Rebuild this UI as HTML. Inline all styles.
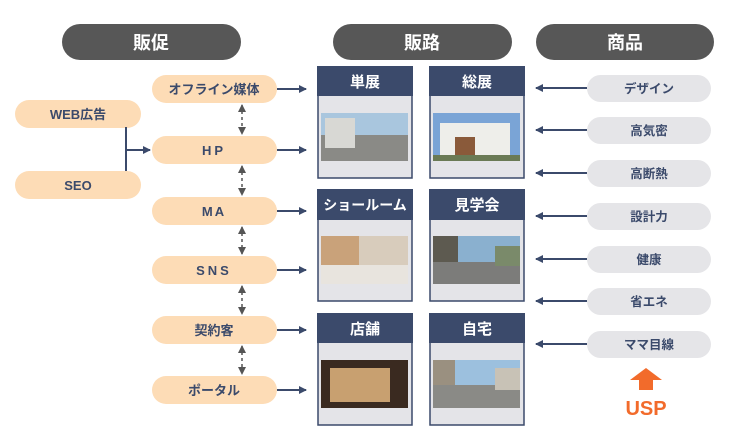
<!DOCTYPE html>
<html><head><meta charset="utf-8"><style>
body{margin:0;background:#fff;}
text{font-family:"Liberation Sans","Noto Sans CJK JP",sans-serif;font-weight:bold;}
</style></head><body>
<svg width="733" height="443" viewBox="0 0 733 443" xmlns="http://www.w3.org/2000/svg">
<defs>
<marker id="ar" markerWidth="8" markerHeight="8" refX="7" refY="4" orient="auto" markerUnits="userSpaceOnUse"><path d="M0,0 L8,4 L0,8 Z" fill="#3b4a6b"/></marker>
<marker id="ag" markerWidth="8" markerHeight="8" refX="7" refY="4" orient="auto-start-reverse" markerUnits="userSpaceOnUse"><path d="M0,0 L8,4 L0,8 Z" fill="#555"/></marker>
</defs>
<!-- headers -->
<g fill="#575757">
<rect x="62" y="24" width="179" height="36" rx="18"/>
<rect x="333" y="24" width="179" height="36" rx="18"/>
<rect x="536" y="24" width="178" height="36" rx="18"/>
</g>
<g fill="#fff" font-size="18" text-anchor="middle">
<text x="151" y="49">販促</text><text x="422" y="49">販路</text><text x="625" y="49">商品</text>
</g>
<!-- left -->
<g fill="#fddcb6">
<rect x="15" y="100" width="126" height="28" rx="14"/>
<rect x="15" y="171" width="126" height="28" rx="14"/>
</g>
<g fill="#3b4a6b" font-size="13" text-anchor="middle">
<text x="78" y="119">WEB広告</text><text x="78" y="190">SEO</text>
</g>
<path d="M126 127 V171 M126 150 H150" stroke="#3b4a6b" stroke-width="2" fill="none" marker-end="url(#ar)"/>
<!-- mid pills -->
<g fill="#fddcb6">
<rect x="152" y="75" width="125" height="28" rx="14"/>
<rect x="152" y="136" width="125" height="28" rx="14"/>
<rect x="152" y="197" width="125" height="28" rx="14"/>
<rect x="152" y="256" width="125" height="28" rx="14"/>
<rect x="152" y="316" width="125" height="28" rx="14"/>
<rect x="152" y="376" width="125" height="28" rx="14"/>
</g>
<g fill="#3b4a6b" font-size="13" text-anchor="middle">
<text x="214" y="94">オフライン媒体</text>
<text x="214" y="155" letter-spacing="3">HP</text>
<text x="214" y="216" letter-spacing="2">MA</text>
<text x="214" y="275" letter-spacing="3">SNS</text>
<text x="214" y="335">契約客</text>
<text x="214" y="395">ポータル</text>
</g>
<g stroke="#555" stroke-width="1.5" stroke-dasharray="3,3" marker-start="url(#ag)" marker-end="url(#ag)">
<line x1="242" y1="105" x2="242" y2="134"/>
<line x1="242" y1="166" x2="242" y2="195"/>
<line x1="242" y1="227" x2="242" y2="254"/>
<line x1="242" y1="286" x2="242" y2="314"/>
<line x1="242" y1="346" x2="242" y2="374"/>
</g>
<g stroke="#3b4a6b" stroke-width="2" marker-end="url(#ar)">
<line x1="277" y1="89" x2="306" y2="89"/>
<line x1="277" y1="150" x2="306" y2="150"/>
<line x1="277" y1="211" x2="306" y2="211"/>
<line x1="277" y1="270" x2="306" y2="270"/>
<line x1="277" y1="330" x2="306" y2="330"/>
<line x1="277" y1="390" x2="306" y2="390"/>
</g>
<!-- cards -->
<g stroke="#3b4a6b" stroke-width="1.5" fill="#e4e4e8">
<rect x="318" y="67" width="94" height="111"/><rect x="430" y="67" width="94" height="111"/>
<rect x="318" y="190" width="94" height="111"/><rect x="430" y="190" width="94" height="111"/>
<rect x="318" y="314" width="94" height="111"/><rect x="430" y="314" width="94" height="111"/>
</g>
<g fill="#3b4a6b">
<rect x="317" y="66" width="96" height="30"/><rect x="429" y="66" width="96" height="30"/>
<rect x="317" y="189" width="96" height="31"/><rect x="429" y="189" width="96" height="31"/>
<rect x="317" y="313" width="96" height="30"/><rect x="429" y="313" width="96" height="30"/>
</g>
<g fill="#fff" font-size="15" text-anchor="middle">
<text x="365" y="87">単展</text><text x="477" y="87">総展</text>
<text x="365" y="210" font-size="14">ショールーム</text><text x="477" y="210">見学会</text>
<text x="365" y="334">店舗</text><text x="477" y="334">自宅</text>
</g>
<!-- images -->
<rect x="321" y="113" width="87" height="48" fill="#a9c6de"/><rect x="321" y="135" width="87" height="26" fill="#8a8a86"/><rect x="325" y="118" width="30" height="30" fill="#d8d8d4"/>
<rect x="433" y="113" width="87" height="48" fill="#7aa4d6"/><rect x="440" y="123" width="70" height="32" fill="#eeeeea"/><rect x="455" y="137" width="20" height="18" fill="#8a5a3a"/><rect x="433" y="155" width="87" height="6" fill="#6a7a55"/>
<rect x="321" y="236" width="87" height="48" fill="#d8ccbc"/><rect x="321" y="236" width="38" height="48" fill="#c9a27a"/><rect x="321" y="265" width="87" height="19" fill="#e8e4de"/>
<rect x="433" y="236" width="87" height="48" fill="#8ab0cf"/><rect x="433" y="236" width="25" height="48" fill="#5d5a50"/><rect x="433" y="262" width="87" height="22" fill="#7c7c7a"/><rect x="495" y="246" width="25" height="20" fill="#7a8a6a"/>
<rect x="321" y="360" width="87" height="48" fill="#3a2a20"/><rect x="330" y="368" width="60" height="34" fill="#c8a070"/>
<rect x="433" y="360" width="87" height="48" fill="#9cc0de"/><rect x="433" y="360" width="22" height="48" fill="#9a9080"/><rect x="433" y="385" width="87" height="23" fill="#8a8a86"/><rect x="495" y="368" width="25" height="22" fill="#c8c2b6"/>
<!-- right -->
<g fill="#e5e5e8">
<rect x="587" y="75" width="124" height="27" rx="13.5"/>
<rect x="587" y="117" width="124" height="27" rx="13.5"/>
<rect x="587" y="160" width="124" height="27" rx="13.5"/>
<rect x="587" y="203" width="124" height="27" rx="13.5"/>
<rect x="587" y="246" width="124" height="27" rx="13.5"/>
<rect x="587" y="288" width="124" height="27" rx="13.5"/>
<rect x="587" y="331" width="124" height="27" rx="13.5"/>
</g>
<g fill="#3b4a6b" font-size="12.5" text-anchor="middle">
<text x="649" y="93">デザイン</text><text x="649" y="135">高気密</text><text x="649" y="178">高断熱</text>
<text x="649" y="221">設計力</text><text x="649" y="264">健康</text><text x="649" y="306">省エネ</text><text x="649" y="349">ママ目線</text>
</g>
<g stroke="#3b4a6b" stroke-width="2" marker-end="url(#ar)">
<line x1="587" y1="88" x2="536" y2="88"/><line x1="587" y1="130" x2="536" y2="130"/>
<line x1="587" y1="173" x2="536" y2="173"/><line x1="587" y1="216" x2="536" y2="216"/>
<line x1="587" y1="259" x2="536" y2="259"/><line x1="587" y1="301" x2="536" y2="301"/>
<line x1="587" y1="344" x2="536" y2="344"/>
</g>
<path d="M630 380 L646 368 L662 380 L653 380 L653 390 L639 390 L639 380 Z" fill="#f26b2b"/>
<text x="646" y="415" fill="#f26b2b" font-size="20" font-weight="normal" text-anchor="middle">USP</text>
</svg>
</body></html>
